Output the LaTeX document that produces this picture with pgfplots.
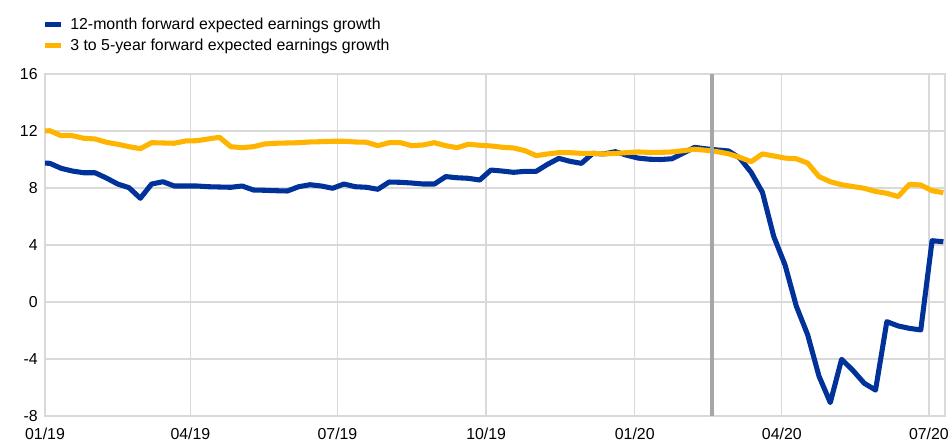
\documentclass[border=0pt]{standalone}
\usepackage{pgfplots}
\pgfplotsset{compat=1.18}
\usepackage{pgfplotstable}
\usepackage{fontspec}
\setmainfont{Liberation Sans}
\definecolor{ecbblue}{HTML}{003299}
\definecolor{ecbyellow}{HTML}{FFB400}
\definecolor{gridgray}{HTML}{D9D9D9}
\definecolor{markgray}{HTML}{A6A6A6}
\pgfplotstableread{
day blue yellow
0 9.75 12.00
3 9.73 12.02
10 9.38 11.67
17 9.19 11.67
24 9.07 11.49
31 9.07 11.44
38 8.70 11.21
45 8.28 11.07
52 8.02 10.90
59 7.28 10.76
66 8.28 11.18
73 8.44 11.16
80 8.14 11.14
87 8.14 11.30
94 8.14 11.32
101 8.09 11.44
108 8.07 11.56
115 8.05 10.90
122 8.14 10.83
129 7.86 10.90
136 7.84 11.09
143 7.81 11.14
150 7.79 11.16
157 8.09 11.18
164 8.23 11.23
171 8.14 11.25
178 7.98 11.28
185 8.28 11.28
192 8.09 11.23
199 8.05 11.21
206 7.91 10.97
213 8.42 11.18
220 8.40 11.18
227 8.35 10.97
234 8.28 11.02
241 8.28 11.18
248 8.80 10.97
255 8.72 10.83
262 8.68 11.07
269 8.56 11.00
276 9.26 10.95
283 9.19 10.86
290 9.10 10.81
297 9.17 10.62
304 9.17 10.27
311 9.66 10.39
318 10.08 10.48
325 9.87 10.48
332 9.73 10.43
339 10.43 10.43
346 10.39 10.39
353 10.55 10.43
360 10.30 10.48
367 10.10 10.53
374 10.02 10.50
381 10.00 10.50
388 10.05 10.53
395 10.45 10.62
402 10.85 10.72
409 10.75 10.65
416 10.67 10.55
423 10.60 10.40
430 10.10 10.15
437 9.10 9.85
444 7.70 10.39
451 4.60 10.25
458 2.60 10.10
465 -0.30 10.05
472 -2.30 9.75
479 -5.20 8.80
486 -7.06 8.44
493 -4.02 8.23
500 -4.80 8.10
507 -5.70 7.98
514 -6.18 7.76
521 -1.38 7.63
528 -1.68 7.40
535 -1.85 8.26
542 -1.96 8.21
549 4.30 7.81
556 4.23 7.67
}\datatable
\begin{document}
\begin{tikzpicture}
\begin{axis}[
  at={(0,0)}, anchor=south west,
  scale only axis,
  width=675pt, height=256.5pt,
  xmin=0, xmax=557,
  ymin=-8, ymax=16,
  xtick={0,90,181,273,365,456,547},
  xticklabels={01/19,04/19,07/19,10/19,01/20,04/20,07/20},
  ytick={-8,-4,0,4,8,12,16},
  grid=major,
  major grid style={gridgray, line width=1pt},
  axis line style={gridgray, line width=1pt},
  tick style={draw=none},
  /pgf/number format/assume math mode=true,
  tick label style={font=\fontsize{11.9}{13}\selectfont, black},
  xticklabel style={yshift=-5.5pt},
  yticklabel style={xshift=-2pt},
  legend style={at={(0,1)}, anchor=south west, xshift=-2pt, yshift=14pt,
    draw=none, fill=none, font=\fontsize{11.9}{13}\selectfont,
    row sep=1.5pt, inner sep=0pt,
    nodes={inner xsep=5pt}},
  legend cell align=left,
  legend image code/.code={\draw[#1, line width=3.8pt] (0pt,0pt) -- (12pt,0pt);},
  clip=true,
]
\addplot[ecbblue, line width=3.8pt, line join=round] table[x=day, y=blue] {\datatable};
\addlegendentry{12-month forward expected earnings growth}
\addplot[ecbyellow, line width=3.8pt, line join=round] table[x=day, y=yellow] {\datatable};
\addlegendentry{3 to 5-year forward expected earnings growth}
\addplot[markgray, line width=3pt, forget plot] coordinates {(413,-8) (413,16)};
\end{axis}
\pgfresetboundingbox
\path[use as bounding box] (-33.75pt,-21pt) rectangle (678.75pt,312pt);
\end{tikzpicture}
\end{document}
